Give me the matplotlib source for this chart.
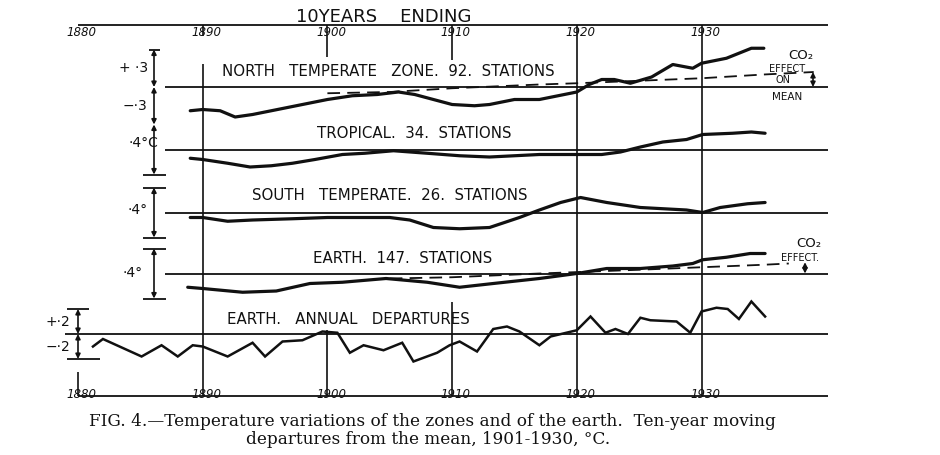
import numpy as np
import matplotlib.pyplot as plt

# Callendar (1938), fig. 4 - ten-year moving departures (deg C) from the 1901-1930 mean,
# plotted at the year the 10-year period ends.
north_years = [1889, 1890, 1891.4, 1892.6, 1894, 1896, 1898, 1900, 1902, 1904,
               1905.7, 1907, 1908.5, 1910, 1911.8, 1913, 1915, 1917, 1919, 1920,
               1921, 1922, 1923, 1924.3, 1926, 1927.7, 1929.3, 1930, 1932, 1933,
               1934, 1935]
north_dep = [-0.19, -0.18, -0.19, -0.24, -0.22, -0.18, -0.14, -0.10, -0.07, -0.06,
             -0.04, -0.06, -0.10, -0.14, -0.15, -0.14, -0.10, -0.10, -0.06, -0.04,
             0.02, 0.06, 0.06, 0.03, 0.08, 0.18, 0.15, 0.19, 0.23, 0.27,
             0.31, 0.31]
north_co2_years = [1900, 1905, 1910, 1917, 1920, 1925, 1930, 1935, 1939]
north_co2 = [-0.05, -0.04, -0.01, 0.02, 0.03, 0.05, 0.07, 0.10, 0.12]

tropical_years = [1889, 1890, 1892, 1893.8, 1895.5, 1897.2, 1899, 1901.2, 1903, 1905.3,
                  1908, 1910.6, 1913, 1915, 1917, 1920, 1922, 1923.5, 1925.1, 1926.9,
                  1928.8, 1930.1, 1932.5, 1934, 1935.1]
tropical_dep = [-0.07, -0.08, -0.11, -0.14, -0.13, -0.11, -0.08, -0.04, -0.03, -0.01,
                -0.03, -0.05, -0.06, -0.05, -0.04, -0.04, -0.04, -0.02, 0.02, 0.06,
                0.08, 0.12, 0.13, 0.14, 0.13]

south_years = [1889, 1890, 1892, 1894, 1897.2, 1900, 1902.6, 1905, 1906.6, 1908.5,
               1910.6, 1913, 1915.4, 1917, 1918.7, 1920.3, 1922.4, 1925.1, 1928.8, 1930.1,
               1931.5, 1933.7, 1935.1]
south_dep = [-0.04, -0.04, -0.07, -0.06, -0.05, -0.04, -0.04, -0.04, -0.06, -0.12,
             -0.13, -0.12, -0.04, 0.02, 0.08, 0.12, 0.08, 0.04, 0.02, 0.00,
             0.04, 0.07, 0.08]

earth_years = [1888.8, 1890, 1893.2, 1895.9, 1898.6, 1901.2, 1904.7, 1908, 1910.6, 1913.3,
               1917, 1920, 1922.4, 1925.1, 1927.7, 1929.3, 1930.1, 1932, 1933.9, 1935.1]
earth_dep = [-0.11, -0.12, -0.15, -0.14, -0.08, -0.07, -0.04, -0.07, -0.11, -0.08,
             -0.04, 0.00, 0.04, 0.04, 0.06, 0.08, 0.11, 0.13, 0.16, 0.16]
earth_co2_years = [1905, 1910, 1917, 1925, 1930, 1935, 1937]
earth_co2 = [-0.04, -0.03, 0.00, 0.03, 0.05, 0.07, 0.08]

# earth, annual departures
annual_years = [1881.2, 1882, 1885.1, 1886.7, 1888, 1889.2, 1890, 1892, 1894, 1895,
                1896.4, 1898, 1899.6, 1900.8, 1901.8, 1902.9, 1904.5, 1906, 1906.9, 1908.8,
                1909.8, 1910.6, 1912, 1913.3, 1914.4, 1915.4, 1917, 1917.9, 1920, 1921.1,
                1922.3, 1923.1, 1924.1, 1925.1, 1925.9, 1928, 1929.1, 1930, 1931.2, 1932.1,
                1933, 1934, 1935.1]
annual_dep = [-0.10, -0.04, -0.18, -0.09, -0.18, -0.09, -0.10, -0.18, -0.07, -0.18,
              -0.06, -0.05, 0.02, 0.01, -0.15, -0.09, -0.13, -0.07, -0.22, -0.15,
              -0.09, -0.06, -0.14, 0.04, 0.06, 0.02, -0.09, -0.02, 0.03, 0.14,
              0.01, 0.04, 0.00, 0.13, 0.11, 0.10, 0.01, 0.18, 0.21, 0.20,
              0.12, 0.26, 0.14]

decades = [1880, 1890, 1900, 1910, 1920, 1930]
panel_labels = ["NORTH   TEMPERATE   ZONE.  92.  STATIONS", "TROPICAL.  34.  STATIONS",
                "SOUTH   TEMPERATE.  26.  STATIONS", "EARTH.  147.  STATIONS",
                "EARTH.   ANNUAL   DEPARTURES"]

# ---- layout (the sheet is drawn on one big axes: x = year, y = deg C) ----
PX_PER_DEG = 125.0
PX_PER_YEAR = 12.47

def xx(px):
    return 1880 + (px - 78) / PX_PER_YEAR

def yy(px):
    return -px / PX_PER_DEG

ink = '#111111'
base_px = [87, 149.5, 212.5, 273.5, 334]
offs = [yy(p) for p in base_px]

plt.rcParams['font.family'] = 'DejaVu Sans'
fig = plt.figure(figsize=(9.4, 4.55), dpi=100)
ax = fig.add_axes([0, 0, 1, 1])
ax.set_xlim(xx(0), xx(940))
ax.set_ylim(yy(455), yy(0))
ax.axis('off')

# frame lines: top and bottom year axes, zero lines of each curve
ax.hlines([yy(25), yy(396)], xx(78), xx(828), color=ink, lw=1.3)
ax.hlines(offs[:4], xx(165), xx(828), color=ink, lw=1.3)
ax.hlines(offs[4], xx(65), xx(828), color=ink, lw=1.3)

# decade lines
ax.vlines(1890, yy(396), yy(64), color=ink, lw=1.2)
ax.vlines(1890, yy(36), yy(25), color=ink, lw=1.2)
ax.vlines([1920, 1930], yy(396), yy(25), color=ink, lw=1.2)
ax.vlines(1900, yy(57), yy(25), color=ink, lw=1.2)
ax.vlines(1910, yy(60), yy(25), color=ink, lw=1.2)
ax.vlines(1900, yy(396), yy(330), color=ink, lw=1.2)
ax.vlines(1910, yy(396), yy(302), color=ink, lw=1.2)
ax.vlines(1880, yy(396), yy(372), color=ink, lw=1.2)

# curves
ax.plot(north_years, np.array(north_dep) + offs[0], color=ink, lw=2.3, solid_capstyle='round')
ax.plot(tropical_years, np.array(tropical_dep) + offs[1], color=ink, lw=2.3, solid_capstyle='round')
ax.plot(south_years, np.array(south_dep) + offs[2], color=ink, lw=2.3, solid_capstyle='round')
ax.plot(earth_years, np.array(earth_dep) + offs[3], color=ink, lw=2.3, solid_capstyle='round')
ax.plot(annual_years, np.array(annual_dep) + offs[4], color=ink, lw=1.8, solid_joinstyle='miter')

# CO2 effect (dashed)
ax.plot(north_co2_years, np.array(north_co2) + offs[0], color=ink, lw=1.3, dashes=(7, 4))
ax.plot(earth_co2_years, np.array(earth_co2) + offs[3], color=ink, lw=1.3, dashes=(7, 4))

def bracket(x, y0, y1):
    ax.annotate('', xy=(x, y0), xytext=(x, y1),
                arrowprops=dict(arrowstyle='<|-|>', color=ink, lw=1.2,
                                mutation_scale=7, shrinkA=0, shrinkB=0))

# scale bars
xs = xx(154)
bracket(xs, offs[0], offs[0] + 0.3)
bracket(xs, offs[0] - 0.3, offs[0])
ax.hlines(offs[0] + 0.3, xx(149), xx(160), color=ink, lw=1.3)
for k in (1, 2, 3):
    bracket(xs, offs[k] - 0.2, offs[k] + 0.2)
    ax.hlines(offs[k] - 0.2, xx(143), xx(166), color=ink, lw=1.3)
    if k > 1:
        ax.hlines(offs[k] + 0.2, xx(143), xx(166), color=ink, lw=1.3)
xa = xx(78)
bracket(xa, offs[4], offs[4] + 0.2)
bracket(xa, offs[4] - 0.2, offs[4])
ax.hlines(offs[4] + 0.2, xx(67), xx(89), color=ink, lw=1.3)
ax.hlines(offs[4] - 0.2, xx(67), xx(100), color=ink, lw=1.3)

# CO2 effect arrows at the right
bracket(xx(813), offs[0], offs[0] + north_co2[-1])
bracket(xx(805), offs[3], offs[3] + earth_co2[-1] + 0.01)

# lettering
ax.text(xx(384), yy(26), "10YEARS    ENDING", ha='center', va='bottom', fontsize=13, color=ink)
for d in decades:
    ax.text(d + 0.3, yy(32), str(d), ha='center', va='center', fontsize=8.5,
            style='italic', color=ink)
    ax.text(d + 0.3, yy(394), str(d), ha='center', va='center', fontsize=8.5,
            style='italic', color=ink)

lab_pos = [(222, 71), (317, 133), (252, 195), (313, 258), (227, 319)]
for (px, py), lab in zip(lab_pos, panel_labels):
    ax.text(xx(px), yy(py), lab, ha='left', va='center', fontsize=10.8, color=ink)

scale_txt = [("+ ·3", 148, 68), ("−·3", 147, 106), ("·4°C", 158, 143), ("·4°", 148, 210),
             ("·4°", 143, 273), ("+·2", 70, 322), ("−·2", 70, 347)]
for s, px, py in scale_txt:
    ax.text(xx(px), yy(py), s, ha='right', va='center', fontsize=10, color=ink)

ax.text(xx(801), yy(55), "CO₂", ha='center', va='center', fontsize=9.5, color=ink)
ax.text(xx(787), yy(69), "EFFECT", ha='center', va='center', fontsize=7, color=ink)
ax.text(xx(783), yy(80), "ON", ha='center', va='center', fontsize=7, color=ink)
ax.text(xx(787), yy(97), "MEAN", ha='center', va='center', fontsize=7.5, color=ink)
ax.text(xx(809), yy(243), "CO₂", ha='center', va='center', fontsize=9.5, color=ink)
ax.text(xx(800), yy(258), "EFFECT.", ha='center', va='center', fontsize=7, color=ink)

# caption
ax.text(xx(432), yy(422), "FIG. 4.—Temperature variations of the zones and of the earth.  Ten-year moving",
        ha='center', va='center', fontsize=12.2, family='DejaVu Serif', color=ink)
ax.text(xx(428), yy(439), "departures from the mean, 1901-1930, °C.",
        ha='center', va='center', fontsize=12.2, family='DejaVu Serif', color=ink)

fig.savefig('out.png', dpi=100, facecolor='white')
